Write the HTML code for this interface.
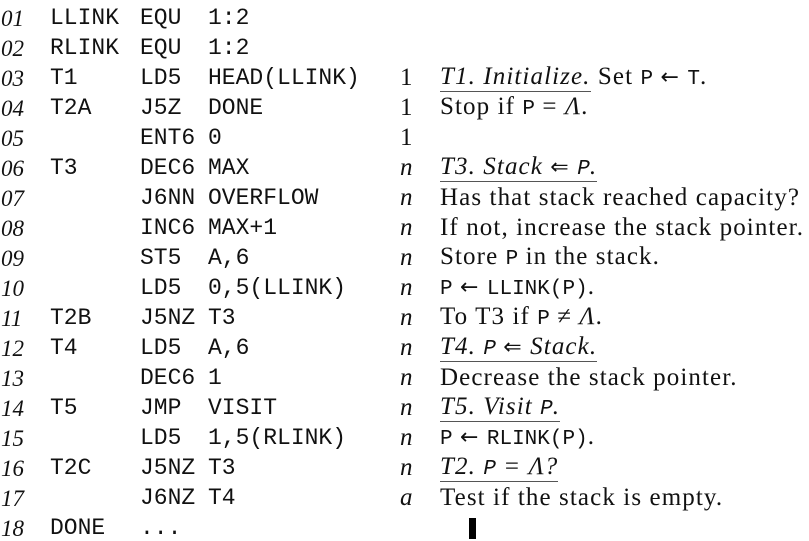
<!DOCTYPE html>
<html><head><style>
body{margin:0;width:809px;height:539px;background:#fff;overflow:hidden;position:relative;color:#111}
.r{position:absolute;left:0;height:30px;width:809px;white-space:pre}
.r span{position:absolute;bottom:0;line-height:1}
.n{left:1px;font-family:"Liberation Serif",serif;font-style:italic;font-size:23px}
.m{font-family:"Liberation Mono",monospace;font-size:23px}
.l{left:50px}.o{left:140px}.a{left:208px}
.c{left:400px;font-family:"Liberation Serif",serif;font-size:25px}
.ci{font-style:italic}
.t{left:440px;font-family:"Liberation Serif",serif;font-size:25px;letter-spacing:1.1px}
.t tt{font-family:"Liberation Mono",monospace;font-size:21px;letter-spacing:0}
.t b{font-weight:normal;font-family:"DejaVu Sans",sans-serif;font-size:22px}
u{text-decoration:none;border-bottom:1.5px solid #555;font-style:italic;padding-bottom:1px}
</style></head><body>
<div class="r" style="top:0px"><span class="n">01</span><span class="m l">LLINK</span><span class="m o">EQU</span><span class="m a">1:2</span></div>
<div class="r" style="top:30px"><span class="n">02</span><span class="m l">RLINK</span><span class="m o">EQU</span><span class="m a">1:2</span></div>
<div class="r" style="top:60px"><span class="n">03</span><span class="m l">T1</span><span class="m o">LD5</span><span class="m a">HEAD(LLINK)</span><span class="c">1</span><span class="t"><u>T1. Initialize.</u> Set <tt>P</tt> <b>←</b> <tt>T</tt>.</span></div>
<div class="r" style="top:90px"><span class="n">04</span><span class="m l">T2A</span><span class="m o">J5Z</span><span class="m a">DONE</span><span class="c">1</span><span class="t">Stop if <tt>P</tt> = <i>Λ</i>.</span></div>
<div class="r" style="top:120px"><span class="n">05</span><span class="m o">ENT6</span><span class="m a">0</span><span class="c">1</span></div>
<div class="r" style="top:150px"><span class="n">06</span><span class="m l">T3</span><span class="m o">DEC6</span><span class="m a">MAX</span><span class="c ci">n</span><span class="t"><u>T3. Stack <b>⇐</b> <tt>P</tt>.</u></span></div>
<div class="r" style="top:180px"><span class="n">07</span><span class="m o">J6NN</span><span class="m a">OVERFLOW</span><span class="c ci">n</span><span class="t">Has that stack reached capacity?</span></div>
<div class="r" style="top:210px"><span class="n">08</span><span class="m o">INC6</span><span class="m a">MAX+1</span><span class="c ci">n</span><span class="t">If not, increase the stack pointer.</span></div>
<div class="r" style="top:240px"><span class="n">09</span><span class="m o">ST5</span><span class="m a">A,6</span><span class="c ci">n</span><span class="t">Store <tt>P</tt> in the stack.</span></div>
<div class="r" style="top:270px"><span class="n">10</span><span class="m o">LD5</span><span class="m a">0,5(LLINK)</span><span class="c ci">n</span><span class="t"><tt>P</tt> <b>←</b> <tt>LLINK(P)</tt>.</span></div>
<div class="r" style="top:300px"><span class="n">11</span><span class="m l">T2B</span><span class="m o">J5NZ</span><span class="m a">T3</span><span class="c ci">n</span><span class="t">To T3 if <tt>P</tt> ≠ <i>Λ</i>.</span></div>
<div class="r" style="top:330px"><span class="n">12</span><span class="m l">T4</span><span class="m o">LD5</span><span class="m a">A,6</span><span class="c ci">n</span><span class="t"><u>T4. <tt>P</tt> <b>⇐</b> Stack.</u></span></div>
<div class="r" style="top:360px"><span class="n">13</span><span class="m o">DEC6</span><span class="m a">1</span><span class="c ci">n</span><span class="t">Decrease the stack pointer.</span></div>
<div class="r" style="top:390px"><span class="n">14</span><span class="m l">T5</span><span class="m o">JMP</span><span class="m a">VISIT</span><span class="c ci">n</span><span class="t"><u>T5. Visit <tt>P</tt>.</u></span></div>
<div class="r" style="top:420px"><span class="n">15</span><span class="m o">LD5</span><span class="m a">1,5(RLINK)</span><span class="c ci">n</span><span class="t"><tt>P</tt> <b>←</b> <tt>RLINK(P)</tt>.</span></div>
<div class="r" style="top:450px"><span class="n">16</span><span class="m l">T2C</span><span class="m o">J5NZ</span><span class="m a">T3</span><span class="c ci">n</span><span class="t"><u>T2. <tt>P</tt> = Λ?</u></span></div>
<div class="r" style="top:480px"><span class="n">17</span><span class="m o">J6NZ</span><span class="m a">T4</span><span class="c ci">a</span><span class="t">Test if the stack is empty.</span></div>
<div class="r" style="top:510px"><span class="n">18</span><span class="m l">DONE</span><span class="m o">...</span></div>
<div style="position:absolute;left:469px;top:518px;width:7px;height:21px;background:#000"></div>
</body></html>
